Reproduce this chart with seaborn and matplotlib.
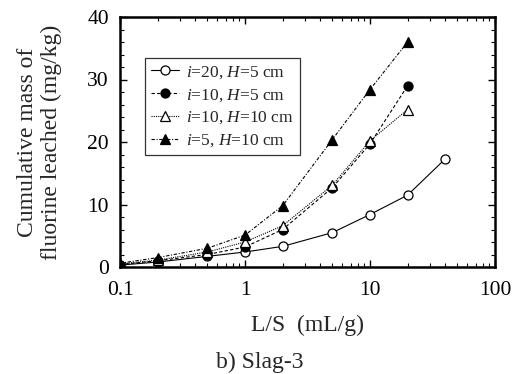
import numpy as np
import pandas as pd
import seaborn as sns
import matplotlib.pyplot as plt
from matplotlib.ticker import MultipleLocator, FixedLocator, NullFormatter

ls_20_5 = [0.1, 0.2, 0.5, 1, 2, 5, 10, 20, 40]
mass_20_5 = [0.3, 0.8, 1.7, 2.4, 3.3, 5.5, 8.4, 11.5, 17.3]
ls_other = [0.1, 0.2, 0.5, 1, 2, 5, 10, 20]
mass_10_5 = [0.4, 1.0, 2.0, 3.2, 6.0, 12.7, 19.7, 29.0]
mass_10_10 = [0.5, 1.1, 2.4, 4.0, 6.6, 13.1, 20.2, 25.2]
mass_5_10 = [0.6, 1.5, 3.0, 5.1, 9.8, 20.4, 28.4, 36.0]

sns.set_style('ticks')
plt.rcParams['font.family'] = ['Liberation Serif', 'DejaVu Serif']
plt.rcParams['mathtext.fontset'] = 'custom'
plt.rcParams['mathtext.it'] = 'Liberation Serif:italic'
plt.rcParams['mathtext.rm'] = 'Liberation Serif'

fig = plt.figure(figsize=(5.19, 3.74), dpi=100)
ax = fig.add_axes([120/519, 1 - 267/374, 375/519, 250/374])

series = [
    (ls_20_5, mass_20_5, '$i$=20, $H$=5 cm', 'o', 'white', '-'),
    (ls_other, mass_10_5, '$i$=10, $H$=5 cm', 'o', 'black', (0, (3, 2))),
    (ls_other, mass_10_10, '$i$=10, $H$=10 cm', '^', 'white', (0, (1, 1))),
    (ls_other, mass_5_10, '$i$=5, $H$=10 cm', '^', 'black', (0, (3, 1.5, 1, 1.5))),
]
for xs, ys, lab, mk, fc, ls in series:
    sns.lineplot(x=xs, y=ys, ax=ax, label=lab, marker=mk, markersize=6.5,
                 markerfacecolor=fc, markeredgecolor='black', markeredgewidth=0.9,
                 color='black', linewidth=0.8, linestyle=ls)

ax.set_xscale('log')
ax.set_xlim(0.1, 100)
ax.set_ylim(0, 40)
ax.xaxis.set_major_locator(FixedLocator([0.1, 1, 10, 100]))
ax.set_xticklabels(['0.1', '1', '10', '100'])
minors = [m * d for d in [0.1, 1, 10] for m in range(2, 10)]
ax.xaxis.set_minor_locator(FixedLocator(minors))
ax.xaxis.set_minor_formatter(NullFormatter())
ax.yaxis.set_major_locator(MultipleLocator(10))
ax.yaxis.set_minor_locator(MultipleLocator(2))
ax.tick_params(which='both', direction='in', top=True, right=True, labelsize=15.5, colors='black')
ax.tick_params(which='major', length=5, width=1)
ax.tick_params(which='minor', length=3, width=0.8)
ax.tick_params(axis='x', which='major', pad=10)
ax.tick_params(axis='y', which='major', pad=8)
for sp in ax.spines.values():
    sp.set_linewidth(1.8)
    sp.set_color('black')

ax.set_xlabel('L/S  (mL/g)', fontsize=17, labelpad=11)
ax.set_ylabel('Cumulative mass of\nfluorine leached (mg/kg)', fontsize=17, labelpad=18, linespacing=1.2)

leg = ax.legend(loc='upper left', bbox_to_anchor=(0.067, 0.836), fontsize=12.5, frameon=True,
                fancybox=False, edgecolor='black', handlelength=1.6, handletextpad=0.4,
                borderpad=0.35, labelspacing=0.35, borderaxespad=0)
leg.get_frame().set_linewidth(0.9)

fig.text(0.5, 1 - 362/374, 'b) Slag-3', ha='center', va='center', fontsize=17)

fig.savefig('out.png', dpi=100)
